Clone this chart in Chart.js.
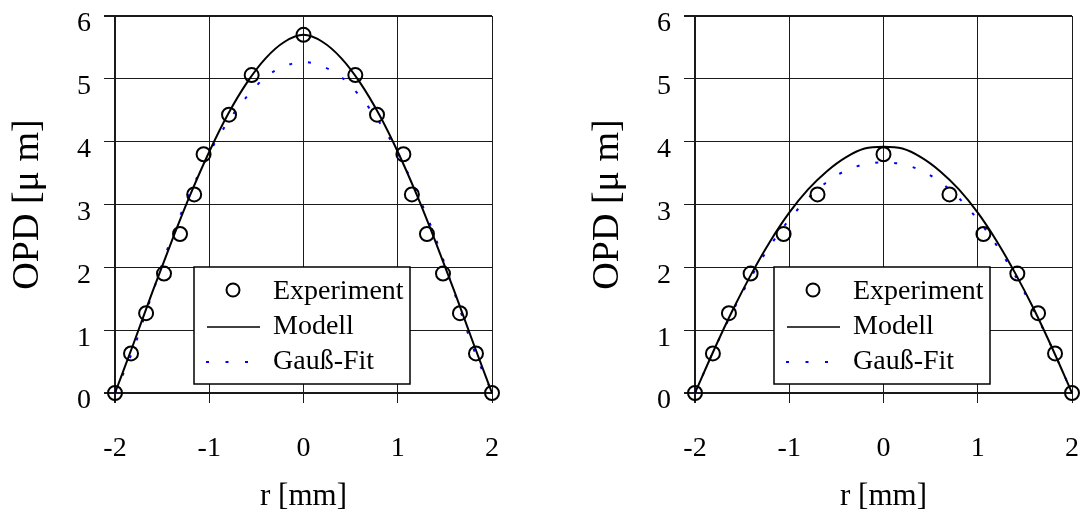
<!DOCTYPE html>
<html>
<head>
<meta charset="utf-8">
<script src="https://cdn.jsdelivr.net/npm/chart.js@4.4.1/dist/chart.umd.min.js"></script>
<style>
html, body { margin: 0; padding: 0; background: #fff; }
#wrap { position: relative; width: 1081px; height: 510px; overflow: hidden; }
canvas { position: absolute; top: 0; }
#chartL { left: 0; }
#chartR { left: 580px; }
</style>
</head>
<body>
<div id="wrap">
  <canvas id="chartL" width="540" height="510"></canvas>
  <canvas id="chartR" width="501" height="510"></canvas>
</div>
<script>
// Achsen-Ticks
const xTickValues = [-2, -1, 0, 1, 2];
const yTickValues = [0, 1, 2, 3, 4, 5, 6];

// Stützstellen für Modell und Gauß-Fit (r in mm)
const rGrid = [-2, -1.8, -1.6, -1.4, -1.2, -1, -0.8, -0.6, -0.4, -0.2, 0,
               0.2, 0.4, 0.6, 0.8, 1, 1.2, 1.4, 1.6, 1.8, 2];

// linkes Diagramm
const modelL = [0, 0.80, 1.62, 2.41, 3.16, 3.84, 4.44, 4.94, 5.33, 5.59, 5.70,
                5.59, 5.33, 4.94, 4.44, 3.84, 3.16, 2.41, 1.62, 0.80, 0];
const gaussL = [0, 0.72, 1.60, 2.47, 3.20, 3.82, 4.32, 4.72, 5.03, 5.20, 5.27,
                5.20, 5.03, 4.72, 4.32, 3.82, 3.20, 2.47, 1.60, 0.72, 0];
const expRL = [-2, -1.83, -1.67, -1.48, -1.31, -1.16, -1.06, -0.79, -0.55, 0,
               0.55, 0.78, 1.06, 1.15, 1.31, 1.48, 1.66, 1.83, 2];
const expOpdL = [0, 0.63, 1.27, 1.90, 2.53, 3.16, 3.80, 4.43, 5.06, 5.70,
                 5.06, 4.43, 3.80, 3.16, 2.53, 1.90, 1.27, 0.63, 0];

// rechtes Diagramm
const modelR = [0, 0.68, 1.32, 1.90, 2.42, 2.87, 3.24, 3.53, 3.75, 3.89, 3.92,
                3.89, 3.75, 3.53, 3.24, 2.87, 2.42, 1.90, 1.32, 0.68, 0];
const gaussR = [0, 0.68, 1.30, 1.86, 2.35, 2.76, 3.10, 3.36, 3.54, 3.64, 3.67,
                3.64, 3.54, 3.36, 3.10, 2.76, 2.35, 1.86, 1.30, 0.68, 0];
const expRR = [-2, -1.81, -1.64, -1.41, -1.06, -0.70, 0, 0.70, 1.06, 1.42, 1.64, 1.82, 2];
const expOpdR = [0, 0.63, 1.27, 1.90, 2.53, 3.16, 3.80, 3.16, 2.53, 1.90, 1.27, 0.63, 0];

const FONT = 'Liberation Serif';

// Legende mit weißem Kasten innerhalb des Plotbereichs
const legendBox = {
  id: 'legendBox',
  afterDraw(chart) {
    const { ctx, chartArea: a } = chart;
    const left = a.left + 79, top = a.top + 251, w = 216, h = 117;
    ctx.save();
    ctx.fillStyle = '#fff';
    ctx.fillRect(left, top, w, h);
    ctx.strokeStyle = '#000';
    ctx.lineWidth = 1.5;
    ctx.strokeRect(left, top, w, h);

    const rows = [top + 25, top + 60, top + 95];
    // Kreis
    ctx.beginPath();
    ctx.lineWidth = 2;
    ctx.arc(left + 39, rows[0] - 2, 6.5, 0, Math.PI * 2);
    ctx.stroke();
    // Linie
    ctx.beginPath();
    ctx.lineWidth = 1.5;
    ctx.moveTo(left + 13, rows[1]);
    ctx.lineTo(left + 66, rows[1]);
    ctx.stroke();
    // gepunktet
    ctx.beginPath();
    ctx.strokeStyle = '#0000ff';
    ctx.lineWidth = 2;
    ctx.setLineDash([3, 16.5]);
    ctx.moveTo(left + 12, rows[2]);
    ctx.lineTo(left + 66, rows[2]);
    ctx.stroke();
    ctx.setLineDash([]);

    ctx.fillStyle = '#000';
    ctx.font = '28px "' + FONT + '"';
    ctx.textBaseline = 'middle';
    ctx.textAlign = 'left';
    chart.data.datasets.forEach((ds, i) => {
      ctx.fillText(ds.label, left + 79, rows[i]);
    });
    ctx.restore();
  }
};

function makeChart(id, expR, expOpd, model, gauss, padRight) {
  const ctx = document.getElementById(id).getContext('2d');
  return new Chart(ctx, {
    type: 'scatter',
    data: {
      datasets: [{
        label: 'Experiment',
        data: expR.map((r, i) => ({ x: r, y: expOpd[i] })),
        pointRadius: 7,
        pointBorderWidth: 2,
        pointBorderColor: '#000',
        pointBackgroundColor: 'rgba(0,0,0,0)',
        clip: false
      }, {
        label: 'Modell',
        data: rGrid.map((r, i) => ({ x: r, y: model[i] })),
        showLine: true,
        borderColor: '#000',
        borderWidth: 2,
        pointRadius: 0,
        cubicInterpolationMode: 'monotone',
        clip: false
      }, {
        label: 'Gauß-Fit',
        data: rGrid.map((r, i) => ({ x: r, y: gauss[i] })),
        showLine: true,
        borderColor: '#0000ff',
        borderWidth: 2,
        borderDash: [3, 16],
        pointRadius: 0,
        cubicInterpolationMode: 'monotone',
        clip: false
      }]
    },
    options: {
      responsive: false,
      animation: false,
      events: [],
      layout: { autoPadding: false, padding: { left: 0, right: padRight, top: 16, bottom: 0 } },
      plugins: { legend: { display: false }, tooltip: { enabled: false } },
      scales: {
        x: {
          type: 'linear',
          min: -2,
          max: 2,
          afterBuildTicks: s => { s.ticks = xTickValues.map(v => ({ value: v })); },
          afterFit: s => { s.height = 117; s.paddingLeft = 0; s.paddingRight = 0; },
          border: { display: false },
          grid: {
            color: '#1a1a1a',
            lineWidth: c => (c.tick && c.tick.value === -2) ? 2 : 1,
            tickLength: 10
          },
          ticks: {
            color: '#000',
            font: { family: FONT, size: 28, lineHeight: 1 },
            padding: 32,
            maxRotation: 0,
            autoSkip: false
          },
          title: {
            display: true,
            text: 'r [mm]',
            color: '#000',
            font: { family: FONT, size: 31, lineHeight: 0.84 },
            padding: 0
          }
        },
        y: {
          type: 'linear',
          min: 0,
          max: 6,
          afterBuildTicks: s => { s.ticks = yTickValues.map(v => ({ value: v })); },
          afterFit: s => { s.width = 115; s.paddingTop = 0; s.paddingBottom = 0; },
          border: { display: false },
          grid: {
            color: '#1a1a1a',
            lineWidth: c => (c.tick && (c.tick.value === 0 || c.tick.value === 6)) ? 2 : 1,
            tickLength: 11
          },
          ticks: {
            color: '#000',
            font: { family: FONT, size: 28, lineHeight: 1 },
            padding: 13,
            labelOffset: 8
          },
          title: {
            display: true,
            text: 'OPD [μ m]',
            color: '#000',
            font: { family: FONT, size: 38, lineHeight: 1 },
            padding: { top: 9, bottom: 0 }
          }
        }
      }
    },
    plugins: [legendBox]
  });
}

makeChart('chartL', expRL, expOpdL, modelL, gaussL, 48);
makeChart('chartR', expRR, expOpdR, modelR, gaussR, 9);
</script>
</body>
</html>
